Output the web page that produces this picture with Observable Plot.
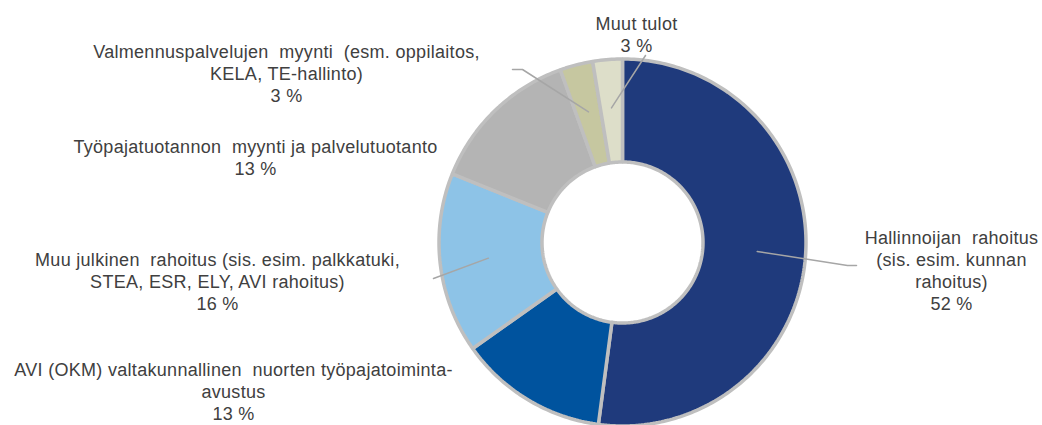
<!DOCTYPE html>
<html>
<head>
<meta charset="utf-8">
<script src="https://cdn.jsdelivr.net/npm/d3@7"></script>
<script src="https://cdn.jsdelivr.net/npm/@observablehq/plot@0.6"></script>
<style>
  html, body { margin: 0; padding: 0; background: #fff; }
  #chart svg { display: block; }
</style>
</head>
<body>
<div id="chart"></div>
<script>
// ---- data ----
const categories = [
  "Hallinnoijan rahoitus (sis. esim. kunnan rahoitus)",
  "AVI (OKM) valtakunnallinen nuorten työpajatoiminta-avustus",
  "Muu julkinen rahoitus (sis. esim. palkkatuki, STEA, ESR, ELY, AVI rahoitus)",
  "Työpajatuotannon myynti ja palvelutuotanto",
  "Valmennuspalvelujen myynti (esm. oppilaitos, KELA, TE-hallinto)",
  "Muut tulot"
];
const shares = [52.1, 13.1, 15.9, 13.4, 2.9, 2.6];
const labelLines = [
  ["Hallinnoijan  rahoitus", "(sis. esim. kunnan", "rahoitus)"],
  ["AVI (OKM) valtakunnallinen  nuorten työpajatoiminta-", "avustus"],
  ["Muu julkinen  rahoitus (sis. esim. palkkatuki,", "STEA, ESR, ELY, AVI rahoitus)"],
  ["Työpajatuotannon  myynti ja palvelutuotanto"],
  ["Valmennuspalvelujen  myynti  (esm. oppilaitos,", "KELA, TE-hallinto)"],
  ["Muut tulot"]
];
const colors = ["#1F3A7C", "#00539E", "#8DC3E7", "#B4B4B4", "#C6C7A0", "#DDDEC9"];

// ---- layout (pixels) ----
const W = 1042, H = 425;
const CX = 622, CY = 242;
const R_OUT = 183.5, R_IN = 80.5, R_LEADER = 135;
const FONT = 18, LINE_PX = 22;
// label block: center x, first baseline y
const labelPos = [[951, 241], [233, 373], [217, 263], [255, 150], [286, 55], [636, 27]];
// leader line outer points (null = no leader)
const leaderEnds = [
  [[847, 265], [856, 265]],
  null,
  [[433, 278]],
  null,
  [[522, 69], [512, 69]],
  [[645, 55]]
];

const ux = px => px - CX;
const uy = py => CY - py;

// slices
const slicePts = [];
const mids = [];
let cum = 0;
shares.forEach((s, i) => {
  const a0 = cum / 100 * 2 * Math.PI, a1 = (cum + s) / 100 * 2 * Math.PI;
  mids.push((a0 + a1) / 2);
  const n = Math.max(8, Math.ceil(s * 4));
  for (let k = 0; k <= n; k++) {
    const a = a0 + (a1 - a0) * k / n;
    slicePts.push({cat: categories[i], x: R_OUT * Math.sin(a), y: R_OUT * Math.cos(a)});
  }
  for (let k = n; k >= 0; k--) {
    const a = a0 + (a1 - a0) * k / n;
    slicePts.push({cat: categories[i], x: R_IN * Math.sin(a), y: R_IN * Math.cos(a)});
  }
  cum += s;
});

// leaders
const leaderPts = [];
leaderEnds.forEach((ends, i) => {
  if (!ends) return;
  const a = mids[i];
  leaderPts.push({cat: categories[i], x: R_LEADER * Math.sin(a), y: R_LEADER * Math.cos(a)});
  ends.forEach(([px, py]) => leaderPts.push({cat: categories[i], x: ux(px), y: uy(py)}));
});

// labels
const labels = categories.map((c, i) => ({
  cat: c,
  text: [...labelLines[i], Math.round(shares[i]) + " %"].join("\n"),
  x: ux(labelPos[i][0]),
  y: uy(labelPos[i][1] - 0.71 * FONT)
}));

const chart = Plot.plot({
  width: W, height: H,
  margin: 0,
  x: {domain: [ux(0), ux(W)], axis: null},
  y: {domain: [uy(H), uy(0)], axis: null},
  color: {domain: categories, range: colors},
  style: {fontFamily: "'Liberation Sans', Arial, sans-serif", background: "#fff", letterSpacing: "0.3px"},
  marks: [
    Plot.line(slicePts, {x: "x", y: "y", z: "cat", fill: "cat", stroke: "#BFBFBF", strokeWidth: 3.5, curve: "linear-closed", strokeLinejoin: "miter"}),
    Plot.line(leaderPts, {x: "x", y: "y", z: "cat", stroke: "#A6A6A6", strokeWidth: 1.5}),
    Plot.text(labels, {x: "x", y: "y", text: "text", textAnchor: "middle", lineAnchor: "top", lineHeight: LINE_PX / FONT, fontSize: FONT, fill: "#404040"})
  ]
});
document.getElementById("chart").appendChild(chart);
</script>
</body>
</html>
